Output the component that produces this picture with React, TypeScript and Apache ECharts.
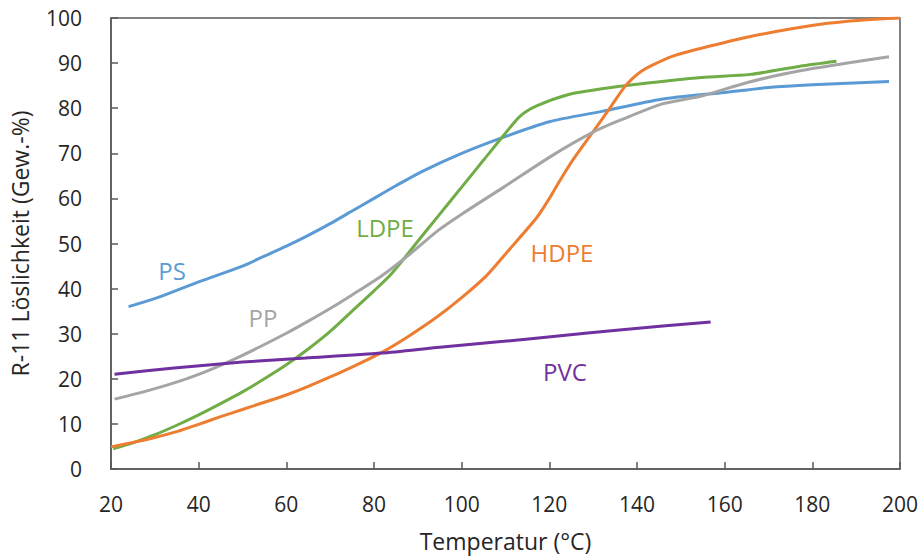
import React, { useEffect, useRef } from "react";
import * as echarts from "echarts";

// Temperature (°C) / R-11 solubility (wt.-%) pairs per polymer
const psData: [number, number][] = [
  [24, 36], [30.6, 38], [40, 41.5], [50, 45], [55, 47.2], [60, 49.4], [65, 51.8],
  [70, 54.4], [75, 57.2], [80, 60], [85, 62.8], [90.8, 65.9], [100, 70],
  [109.6, 73.6], [120, 77], [132, 79.3], [145.6, 82], [160, 83.5], [170, 84.6],
  [180, 85.2], [197.5, 85.9],
];
const ldpeData: [number, number][] = [
  [20.5, 4.5], [25, 5.8], [30, 7.6], [35, 9.7], [40, 12], [45, 14.5], [50, 17.1],
  [55, 20], [60, 23.1], [65, 26.6], [70, 30.5], [75, 35], [80, 39.5], [84, 43.3],
  [90, 50.5], [94.5, 55.9], [100, 62.5], [105, 68.5], [109.6, 74], [113.3, 78.2],
  [117.1, 80.5], [124.6, 83.1], [132, 84.3], [140, 85.3], [154.7, 86.8],
  [165.9, 87.5], [177.2, 89.3], [185.5, 90.4],
];
const hdpeData: [number, number][] = [
  [20, 4.9], [25, 5.9], [30, 7], [35, 8.3], [40, 9.9], [45, 11.6], [50, 13.2],
  [55, 14.8], [60, 16.4], [65, 18.3], [70, 20.4], [75, 22.6], [81.7, 25.8],
  [88, 29.5], [94.5, 33.8], [100, 38], [105.8, 43], [111, 48.8], [117.1, 55.7],
  [120, 60], [122, 63.3], [125, 68], [130, 74.8], [134, 80.3], [137, 84.5],
  [139, 86.6], [141, 88.2], [143.4, 89.5], [148, 91.5], [154.7, 93.3],
  [165.9, 95.9], [181, 98.5], [192.3, 99.6], [200, 100],
];
const ppData: [number, number][] = [
  [20.8, 15.5], [27, 17], [34.4, 19.1], [40, 21], [45, 23], [50, 25.2],
  [55, 27.6], [60, 30.1], [65, 32.8], [70, 35.6], [75, 38.6], [81.7, 42.8],
  [88, 47.5], [94.5, 52.8], [100, 56.5], [109.6, 62.5], [120.8, 69.6],
  [130, 74.7], [136.6, 77.5], [145.6, 80.9], [154.7, 82.7], [165.2, 85.7],
  [177.2, 88.3], [197.5, 91.4],
];
const pvcData: [number, number][] = [
  [20.8, 21], [34.4, 22.4], [50, 23.7], [64.4, 24.6], [81.7, 25.7], [95, 27],
  [109.6, 28.3], [122, 29.5], [136.6, 30.9], [156.8, 32.6],
];

const seriesNames = ["PS", "LDPE", "HDPE", "PP", "PVC"];
const seriesColors = ["#5B9BD5", "#70AD47", "#ED7D31", "#A5A5A5", "#7030A0"];
const seriesData = [psData, ldpeData, hdpeData, ppData, pvcData];

const xTitle = "Temperatur (°C)";
const yTitle = "R-11 Löslichkeit (Gew.-%)";

// In-plot curve labels: text, colour and anchor in pixels
const curveLabels = [
  { text: "PS", color: "#5B9BD5", x: 172, y: 270 },
  { text: "PP", color: "#A5A5A5", x: 263, y: 317 },
  { text: "LDPE", color: "#70AD47", x: 385, y: 227 },
  { text: "HDPE", color: "#ED7D31", x: 562, y: 252 },
  { text: "PVC", color: "#7030A0", x: 565, y: 371 },
];

const FONT = "'Open Sans', 'Noto Sans', sans-serif";

export default function App() {
  const ref = useRef<HTMLDivElement>(null);

  useEffect(() => {
    if (!ref.current) return;
    const chart = echarts.init(ref.current, undefined, { renderer: "svg" });
    const axisLine = { show: true, lineStyle: { color: "#595959", width: 1.5 } };
    const axisTick = { show: true, inside: true, length: 7, lineStyle: { color: "#595959", width: 1.5 } };
    chart.setOption({
      animation: false,
      backgroundColor: "#ffffff",
      textStyle: { fontFamily: FONT },
      grid: {
        left: 103,
        right: 20,
        top: 18,
        bottom: 83,
        show: true,
        borderColor: "#595959",
        borderWidth: 1.5,
        containLabel: false,
      },
      xAxis: {
        type: "value",
        min: 20,
        max: 200,
        interval: 20,
        name: xTitle,
        nameLocation: "middle",
        nameGap: 60,
        nameTextStyle: { fontSize: 23, color: "#262626", fontFamily: FONT },
        axisLine,
        axisTick,
        axisLabel: { fontSize: 21, color: "#262626", margin: 24, fontFamily: FONT },
        splitLine: { show: false },
      },
      yAxis: {
        type: "value",
        min: 0,
        max: 100,
        interval: 10,
        name: yTitle,
        nameLocation: "middle",
        nameGap: 80,
        nameRotate: 90,
        nameTextStyle: { fontSize: 23, color: "#262626", fontFamily: FONT },
        axisLine,
        axisTick,
        axisLabel: { fontSize: 21, color: "#262626", margin: 29, fontFamily: FONT },
        splitLine: { show: false },
      },
      series: seriesNames.map((name, i) => ({
        name,
        type: "line",
        data: seriesData[i],
        smooth: 0.25,
        showSymbol: false,
        symbol: "none",
        lineStyle: { color: seriesColors[i], width: 3 },
        z: 3,
      })),
      graphic: curveLabels.map((l) => ({
        type: "text",
        x: l.x,
        y: l.y,
        z: 10,
        style: {
          text: l.text,
          fill: l.color,
          fontSize: 24,
          fontFamily: FONT,
          align: "center",
          verticalAlign: "middle",
        },
      })),
    });
    return () => chart.dispose();
  }, []);

  return (
    <div
      ref={ref}
      style={{ position: "fixed", left: 0, top: 0, width: 921, height: 557 }}
    />
  );
}
